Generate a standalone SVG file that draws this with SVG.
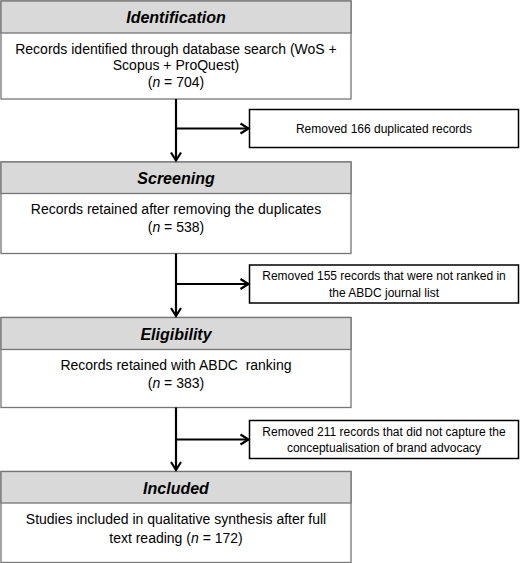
<svg xmlns="http://www.w3.org/2000/svg" width="520" height="563" viewBox="0 0 520 563">
<style>
.box{fill:#ffffff;stroke:#767676;stroke-width:1.3}
.hdr{fill:#d9d9d9;stroke:#767676;stroke-width:1.3}
.rm{fill:#ffffff;stroke:#000000;stroke-width:1.5}
.ht{font-family:"Liberation Sans",Arial,sans-serif;font-size:16px;font-weight:bold;font-style:italic;fill:#000;text-anchor:middle}
.bt{font-family:"Liberation Sans",Arial,sans-serif;font-size:14px;fill:#000;text-anchor:middle}
.rt{font-family:"Liberation Sans",Arial,sans-serif;font-size:12px;fill:#000;text-anchor:middle}
.i{font-style:italic}
.ln{fill:none;stroke:#000;stroke-width:2.2}
</style>
<defs>
<marker id="ah" markerUnits="userSpaceOnUse" markerWidth="14" markerHeight="14" viewBox="-10 -7 12 14" refX="0" refY="0" orient="auto">
<path d="M-8,-5 L0,0 L-8,5" fill="none" stroke="#000" stroke-width="2.2"/>
</marker>
</defs>
<g id="identification">
<rect class="box" x="1" y="1" width="350" height="98"/>
<rect class="hdr" x="1" y="1" width="350" height="32"/>
<text class="ht" x="176" y="23">Identification</text>
<text class="bt" x="176" y="54">Records identified through database search (WoS +</text>
<text class="bt" x="176" y="70">Scopus + ProQuest)</text>
<text class="bt" x="176" y="87">(<tspan class="i">n</tspan> = 704)</text>
</g>
<g id="removed1">
<rect class="rm" x="249.5" y="109.5" width="269" height="38"/>
<text class="rt" x="384" y="132.5">Removed 166 duplicated records</text>
</g>
<g id="screening">
<rect class="box" x="1" y="162" width="350" height="91.5"/>
<rect class="hdr" x="1" y="162" width="350" height="31.5"/>
<text class="ht" x="176" y="183.5">Screening</text>
<text class="bt" x="176" y="214">Records retained after removing the duplicates</text>
<text class="bt" x="176" y="232">(<tspan class="i">n</tspan> = 538)</text>
</g>
<g id="removed2">
<rect class="rm" x="249.5" y="265" width="269" height="38"/>
<text class="rt" x="384" y="280">Removed 155 records that were not ranked in</text>
<text class="rt" x="384" y="296.5">the ABDC journal list</text>
</g>
<g id="eligibility">
<rect class="box" x="1" y="317.5" width="350" height="90"/>
<rect class="hdr" x="1" y="317.5" width="350" height="32"/>
<text class="ht" x="176" y="339.5">Eligibility</text>
<text class="bt" x="176" y="370" xml:space="preserve">Records retained with ABDC  ranking</text>
<text class="bt" x="176" y="388">(<tspan class="i">n</tspan> = 383)</text>
</g>
<g id="removed3">
<rect class="rm" x="249.5" y="420.5" width="269" height="38"/>
<text class="rt" x="384" y="436">Removed 211 records that did not capture the</text>
<text class="rt" x="384" y="452">conceptualisation of brand advocacy</text>
</g>
<g id="included">
<rect class="box" x="1" y="471.5" width="350" height="91"/>
<rect class="hdr" x="1" y="471.5" width="350" height="31.5"/>
<text class="ht" x="176" y="493.5">Included</text>
<text class="bt" x="176" y="524">Studies included in qualitative synthesis after full</text>
<text class="bt" x="176" y="543">text reading (<tspan class="i">n</tspan> = 172)</text>
</g>
<g id="connectors">
<line class="ln" x1="176" y1="99" x2="176" y2="160.5" marker-end="url(#ah)"/>
<line class="ln" x1="176" y1="128.5" x2="248.5" y2="128.5" marker-end="url(#ah)"/>
<line class="ln" x1="176" y1="253.5" x2="176" y2="316" marker-end="url(#ah)"/>
<line class="ln" x1="176" y1="284" x2="248.5" y2="284" marker-end="url(#ah)"/>
<line class="ln" x1="176" y1="407.5" x2="176" y2="470" marker-end="url(#ah)"/>
<line class="ln" x1="176" y1="439.5" x2="248.5" y2="439.5" marker-end="url(#ah)"/>
</g>
</svg>
